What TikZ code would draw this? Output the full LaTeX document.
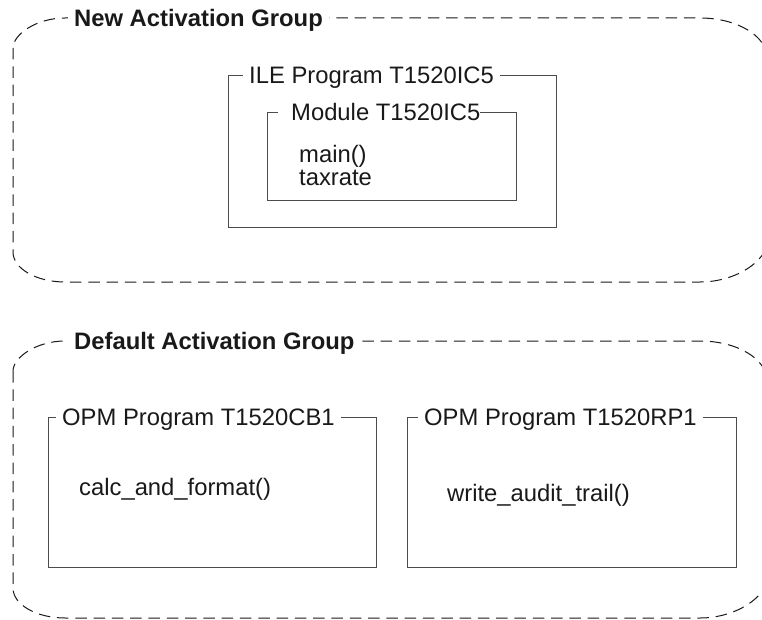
\documentclass[tikz,border=0pt]{standalone}
\usepackage{fontspec}
\setmainfont{Liberation Sans}
\newcommand\diagfont{\fontsize{23.8}{18}\selectfont}
% group outline with elliptical corners: L T R B rxl ryl rxr ryr
\newcommand\grouppath[8]{%
  (#1,{#2+#6}) -- (#1,{#4-#6})
  .. controls (#1,{#4-#6+0.5523*#6}) and ({#1+#5-0.5523*#5},#4) .. ({#1+#5},#4)
  -- ({#3-#7},#4)
  .. controls ({#3-#7+0.5523*#7},#4) and (#3,{#4-0.5523*#8}) .. (#3,{#4-#8})
  -- (#3,{#2+#8})
  .. controls (#3,{#2+#8-0.5523*#8}) and ({#3-#7+0.5523*#7},#2) .. ({#3-#7},#2)
  -- ({#1+#5},#2)
  .. controls ({#1+#5-0.5523*#5},#2) and (#1,{#2+0.5523*#6}) .. (#1,{#2+#6}) -- cycle}
\begin{document}
\begin{tikzpicture}[x=1pt,y=-1pt,
  grp/.style={draw=black!90, line width=1pt, dash pattern=on 11.5pt off 6.8pt},
  box/.style={draw=black!70, line width=1.2pt, rectangle, inner sep=0pt, anchor=north west},
  ttl/.style={fill=white, inner xsep=6pt, inner ysep=1pt, anchor=base west, font=\diagfont, text=black!90},
  gttl/.style={ttl, font=\diagfont\bfseries},
  txt/.style={inner sep=0pt, anchor=base west, font=\diagfont, text=black!90}]
\useasboundingbox (0,0) rectangle (762,620);
\clip (0,0) rectangle (762,620);
\fill[white] (0,0) rectangle (762,620);

% New Activation Group
\draw[grp] \grouppath{13}{18}{767}{282}{52}{30}{67}{40};
\node[gttl] (g1) at (68,26.4) {New Activation Group};

\node[box, minimum width=328pt, minimum height=152pt] (ile) at (228,75) {};
\node[ttl] (ilet) at (243,83.4) {ILE Program T1520IC5};

\node[box, minimum width=249pt, minimum height=88pt] (mod) at (267,112) {};
\node[ttl, inner xsep=0pt] (modt) at (278,120.4) {\hspace{13pt}Module T1520IC5};

\node[txt] (main) at (299,163) {main()};
\node[txt] (tax) at (299,185.5) {taxrate};

% Default Activation Group
\draw[grp] \grouppath{13}{341}{767}{618}{52}{30}{67}{40};
\node[gttl] (g2) at (68,349.4) {Default Activation Group};

\node[box, minimum width=328pt, minimum height=150pt] (cb) at (48,417) {};
\node[ttl] (cbt) at (56,425.4) {OPM Program T1520CB1};
\node[txt] (calc) at (79,495) {calc\_and\_format()};

\node[box, minimum width=329pt, minimum height=150pt] (rp) at (407,417) {};
\node[ttl] (rpt) at (418,425.4) {OPM Program T1520RP1};
\node[txt] (write) at (447,501) {write\_audit\_trail()};
\end{tikzpicture}
\end{document}
